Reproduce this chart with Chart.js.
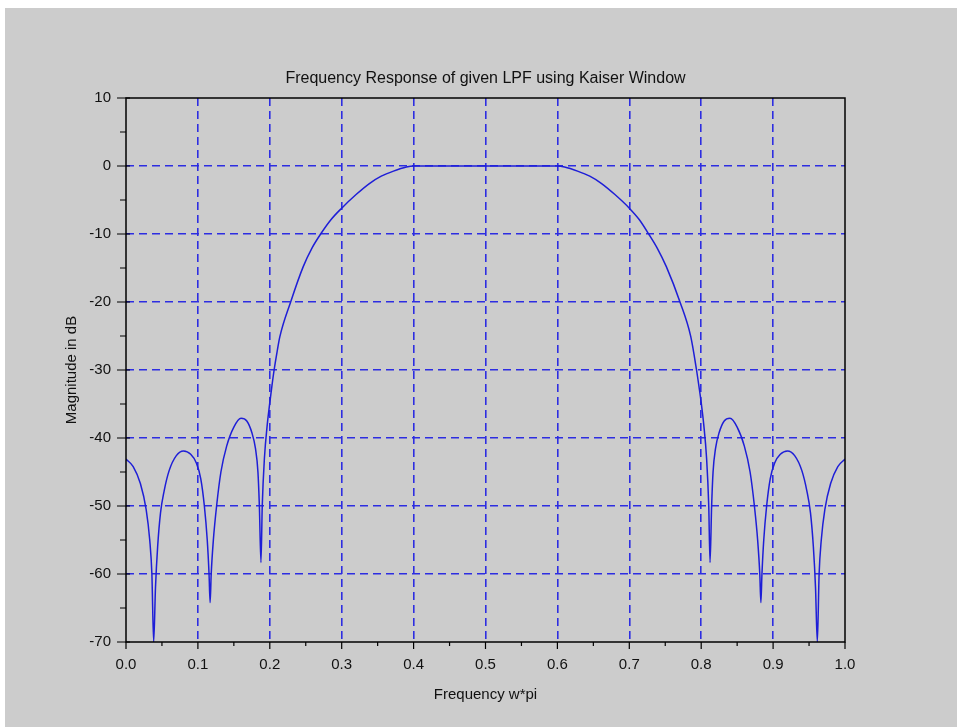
<!DOCTYPE html>
<html>
<head>
<meta charset="utf-8">
<script src="https://cdn.jsdelivr.net/npm/chart.js@4/dist/chart.umd.min.js"></script>
<style>
  html, body { margin: 0; padding: 0; background: #ffffff; }
  #wrap { position: absolute; left: 5px; top: 8px; width: 952px; height: 719px; background: #cccccc; }
</style>
</head>
<body>
<div id="wrap"><canvas id="myChart"></canvas></div>
<script>
// values (frequency in units of pi, magnitude in dB)
const freq = [
  0.000, 0.010, 0.020, 0.028, 0.033, 0.036, 0.0385, 0.041, 0.044, 0.048,
  0.053, 0.060, 0.070, 0.080, 0.090, 0.098, 0.104, 0.109, 0.113, 0.1155,
  0.117, 0.1185, 0.1215, 0.126, 0.132, 0.140, 0.150, 0.160, 0.168, 0.175,
  0.180, 0.1835, 0.1855, 0.1877, 0.1895, 0.1925, 0.1965, 0.200, 0.203, 0.206,
  0.210, 0.214, 0.229, 0.2465, 0.259, 0.2707, 0.285, 0.300, 0.320, 0.339,
  0.355, 0.372, 0.390, 0.400, 0.500, 0.600, 0.610, 0.628, 0.645, 0.661,
  0.680, 0.700, 0.714, 0.727, 0.739, 0.7515, 0.7705, 0.7855, 0.7935, 0.797,
  0.800, 0.8035, 0.8075, 0.8105, 0.8123, 0.8145, 0.8165, 0.820, 0.825, 0.832,
  0.840, 0.850, 0.860, 0.868, 0.874, 0.8785, 0.8815, 0.883, 0.8845, 0.887,
  0.891, 0.896, 0.902, 0.910, 0.920, 0.930, 0.940, 0.947, 0.952, 0.956,
  0.959, 0.9615, 0.964, 0.967, 0.972, 0.980, 0.990, 1.000
];
const magDb = [
  -43.1, -44.2, -46.7, -50.5, -55, -60, -70, -62, -56, -51,
  -47.8, -44.8, -42.6, -41.9, -42.4, -43.7, -46, -50, -55, -60,
  -64.2, -60, -55, -50, -45, -41.2, -38.4, -37.1, -37.5, -39.2,
  -41.5, -45, -50, -58.3, -50, -43, -38, -34.8, -32.3, -30,
  -27.4, -25.1, -20, -14.8, -12.0, -10, -7.9, -6.2, -4.2, -2.55,
  -1.5, -0.75, -0.15, 0, 0, 0, -0.15, -0.75, -1.5, -2.55,
  -4.2, -6.2, -7.9, -10, -12.1, -14.8, -20, -25.1, -30, -32.5,
  -34.8, -38, -43, -50, -58.3, -50, -45, -41.5, -39.2, -37.5,
  -37.1, -38.4, -41.2, -45, -50, -55, -60, -64.2, -60, -55,
  -50, -46, -43.7, -42.4, -41.9, -42.6, -44.8, -47.8, -51, -56,
  -62, -70, -60, -55, -50.5, -46.7, -44.2, -43.1
];
const xRange = [0, 1];
const yRange = [-70, 10];
const xStep = 0.1;
const yStep = 10;

const points = freq.map((f, i) => ({x: f, y: magDb[i]}));

const gridBlue = 'rgb(45,45,225)';
const textFont = '"Liberation Sans", Arial, sans-serif';

function gridColor(min, max) {
  return (c) => {
    const v = c.tick ? c.tick.value : null;
    if (v === null || Math.abs(v - min) < 1e-9 || Math.abs(v - max) < 1e-9) return 'rgba(0,0,0,0)';
    return gridBlue;
  };
}

// frame + scilab-like tick marks
const frameTicks = {
  id: 'frameTicks',
  afterDraw(chart) {
    const {ctx, chartArea: a, scales: {x, y}} = chart;
    ctx.save();
    ctx.strokeStyle = '#000';
    ctx.lineWidth = 1.5;
    ctx.strokeRect(a.left, a.top, a.right - a.left, a.bottom - a.top);
    ctx.lineWidth = 1.2;
    ctx.beginPath();
    for (let v = yRange[0]; v <= yRange[1]; v += yStep) {
      const py = y.getPixelForValue(v);
      ctx.moveTo(a.left - 9, py); ctx.lineTo(a.left + 4, py);
      if (v < yRange[1]) {
        const pm = y.getPixelForValue(v + yStep / 2);
        ctx.moveTo(a.left - 6, pm); ctx.lineTo(a.left, pm);
      }
    }
    for (let i = 0; i <= 10; i++) {
      const v = xRange[0] + i * xStep;
      const px = x.getPixelForValue(v);
      ctx.moveTo(px, a.bottom); ctx.lineTo(px, a.bottom + 7);
      if (i < 10) {
        const pm = x.getPixelForValue(v + xStep / 2);
        ctx.moveTo(pm, a.bottom); ctx.lineTo(pm, a.bottom + 4);
      }
    }
    ctx.stroke();
    ctx.restore();
  }
};

const ctx = document.querySelector('#myChart').getContext('2d');
const chart = new Chart(ctx, {
  type: 'scatter',
  data: {
    datasets: [{
      label: 'Magnitude',
      data: points,
      showLine: true,
      borderColor: 'rgb(30,30,215)',
      borderWidth: 1.5,
      pointRadius: 0,
      cubicInterpolationMode: 'monotone',
      fill: false
    }]
  },
  options: {
    responsive: true,
    maintainAspectRatio: false,
    animation: false,
    layout: { padding: { top: 60.8, right: 112, bottom: 0, left: 0 } },
    plugins: {
      legend: { display: false },
      tooltip: { enabled: false },
      title: {
        display: true,
        fullSize: false,
        text: 'Frequency Response of given LPF using Kaiser Window',
        color: '#111',
        font: { family: textFont, size: 16, weight: 'normal', lineHeight: 1.2 },
        padding: { top: 0, bottom: 10 }
      }
    },
    scales: {
      x: {
        type: 'linear',
        min: xRange[0],
        max: xRange[1],
        afterFit(scale) { scale.height = 85; },
        ticks: {
          stepSize: xStep,
          color: '#111',
          padding: 14,
          maxRotation: 0,
          font: { family: textFont, size: 15 },
          callback: (v) => Number(v).toFixed(1)
        },
        grid: { color: gridColor(xRange[0], xRange[1]), lineWidth: 1.6, drawTicks: false },
        border: { display: false, dash: [8, 5] },
        title: {
          display: true,
          text: 'Frequency w*pi',
          color: '#111',
          font: { family: textFont, size: 15, lineHeight: 1.2 },
          padding: { top: 4, bottom: 23 }
        }
      },
      y: {
        type: 'linear',
        min: yRange[0],
        max: yRange[1],
        afterFit(scale) { scale.width = 121; },
        ticks: {
          stepSize: yStep,
          color: '#111',
          padding: 15,
          font: { family: textFont, size: 15 }
        },
        grid: { color: gridColor(yRange[0], yRange[1]), lineWidth: 1.6, drawTicks: false },
        border: { display: false, dash: [8, 5] },
        title: {
          display: true,
          text: 'Magnitude in dB',
          color: '#111',
          font: { family: textFont, size: 15, lineHeight: 1.2 },
          padding: { top: 58, bottom: 0 }
        }
      }
    }
  },
  plugins: [frameTicks]
});
</script>
</body>
</html>
